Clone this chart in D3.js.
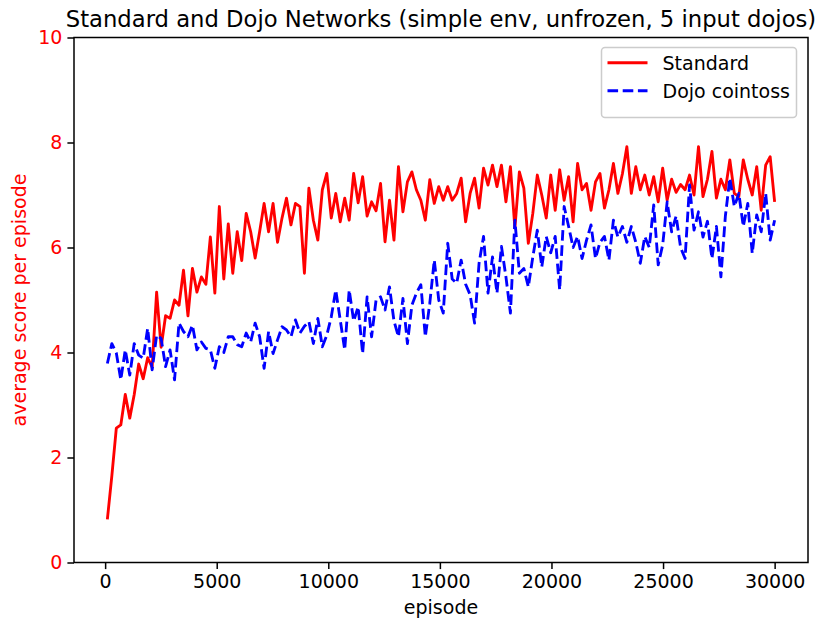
<!DOCTYPE html>
<html>
<head>
<meta charset="utf-8">
<script src="https://cdn.jsdelivr.net/npm/d3@7"></script>
<style>
  body { margin: 0; background: #fff; }
  svg text { font-family: 'DejaVu Sans', sans-serif; }
</style>
</head>
<body>
<div id="charts"></div>
<script>
// average score per episode, one value every ~200 episodes (100 .. 30000)
var standard_scores = [
  0.82, 1.65, 2.56, 2.62, 3.2, 2.75, 3.2, 3.78, 3.5, 3.9,
  3.72, 5.15, 4.1, 4.7, 4.65, 5.0, 4.9, 5.57, 4.7, 5.6,
  5.15, 5.44, 5.3, 6.2, 5.13, 6.78, 5.4, 6.45, 5.51, 6.3,
  5.75, 6.65, 6.3, 5.8, 6.3, 6.84, 6.3, 6.84, 6.1, 6.56,
  6.94, 6.43, 6.84, 6.78, 5.51, 7.13, 6.52, 6.14, 7.1, 7.41,
  6.56, 7.03, 6.49, 6.94, 6.52, 7.41, 6.85, 7.35, 6.6, 6.87,
  6.7, 7.22, 6.11, 6.9, 6.14, 7.54, 6.68, 7.25, 7.44, 7.1,
  6.9, 6.52, 7.29, 6.84, 7.16, 6.9, 7.16, 6.9, 7.03, 7.32,
  6.49, 7.03, 7.32, 6.75, 7.51, 7.19, 7.57, 7.16, 7.57, 6.87,
  7.54, 6.37, 7.44, 7.13, 6.08, 6.65, 7.38, 7.0, 6.56, 7.38,
  6.71, 7.48, 6.9, 7.35, 6.49, 7.6, 7.1, 7.22, 6.71, 7.25,
  7.41, 6.75, 7.1, 7.6, 7.03, 7.4, 7.92, 7.03, 7.54, 7.1,
  7.38, 7.0, 7.35, 6.87, 7.51, 6.9, 7.3, 7.05, 7.2, 7.1,
  7.38, 7.0, 7.92, 6.97, 7.3, 7.83, 6.94, 7.3, 7.1, 7.67,
  7.03, 6.97, 7.67, 7.3, 7.0, 7.54, 6.71, 7.57, 7.73, 6.87
];

var dojo_scores = [
  3.79, 4.17, 3.99, 3.48, 4.05, 3.57, 4.17, 3.95, 3.89, 4.46,
  3.67, 4.33, 4.27, 3.73, 4.05, 3.48, 4.56, 4.4, 4.3, 4.52,
  4.05, 4.2, 4.08, 4.05, 3.7, 4.11, 4.0, 4.3, 4.3, 4.15,
  4.11, 4.37, 4.2, 4.56, 4.3, 3.7, 4.4, 3.98, 4.24, 4.49,
  4.43, 4.3, 4.62, 4.37, 4.5, 4.59, 4.17, 4.65, 4.11, 4.33,
  4.68, 5.19, 4.62, 4.05, 5.19, 4.6, 4.87, 3.98, 5.06, 4.3,
  5.0, 5.06, 4.81, 5.25, 4.6, 4.3, 5.03, 4.17, 4.9, 5.13,
  5.29, 4.3, 4.94, 5.76, 5.0, 4.75, 6.08, 5.4, 5.32, 5.76,
  5.3, 5.1, 4.56, 5.7, 6.21, 5.13, 5.82, 5.13, 6.02, 5.44,
  4.75, 6.52, 5.51, 5.6, 5.25, 5.82, 6.33, 5.63, 6.21, 5.9,
  6.21, 5.19, 6.78, 6.4, 6.0, 6.21, 5.79, 6.14, 6.43, 5.79,
  6.1, 6.21, 5.76, 6.52, 6.2, 6.4, 6.1, 6.4, 6.1, 5.7,
  6.21, 6.0, 6.81, 5.67, 6.05, 6.87, 6.3, 6.6, 6.0, 5.79,
  7.19, 6.33, 6.68, 6.2, 6.5, 5.79, 6.4, 5.44, 6.6, 7.32,
  6.78, 7.03, 6.4, 6.84, 5.89, 6.62, 6.3, 7.03, 6.14, 6.52
];

// episodes spread evenly from 100 to 30000
var episodes = d3.range(standard_scores.length).map(function(i) {
  return 100 + i * 29900 / (standard_scores.length - 1);
});

var x_ticks = [0, 5000, 10000, 15000, 20000, 25000, 30000];
var y_ticks = [0, 2, 4, 6, 8, 10];
var series_names = ['Standard', 'Dojo cointoss'];
var series_colors = ['#ff0000', '#0000ff'];

var svg_dimensions = {width: 819, height: 621};
var plot = {left: 74, right: 808, top: 37.5, bottom: 562.5};
var font_size = '19px';
var dash = '10.6,4.6';
var svg, x, y;

function initializeChart() {
  svg = d3.select('div#charts')
    .append('svg')
    .attr('width', svg_dimensions['width'])
    .attr('height', svg_dimensions['height']);

  // matplotlib style 5% margins round the data
  var span = 30000 - 100;
  x = d3.scaleLinear()
    .domain([100 - span * 0.05, 30000 + span * 0.05])
    .range([plot.left, plot.right]);
  y = d3.scaleLinear()
    .domain([0, 10])
    .range([plot.bottom, plot.top]);

  drawAxes();
  drawLine(standard_scores, series_colors[0], null);
  drawLine(dojo_scores, series_colors[1], dash);
  drawFrame();
  drawLegend();
  drawLabels();
}

function drawAxes() {
  var x_axis = svg.append('g')
    .attr('transform', 'translate(0,' + plot.bottom + ')')
    .call(d3.axisBottom(x).tickValues(x_ticks).tickFormat(d3.format('d'))
      .tickSize(6.6).tickPadding(5).tickSizeOuter(0));
  var y_axis = svg.append('g')
    .attr('transform', 'translate(' + plot.left + ',0)')
    .call(d3.axisLeft(y).tickValues(y_ticks).tickFormat(d3.format('d'))
      .tickSize(6.6).tickPadding(5).tickSizeOuter(0));

  [x_axis, y_axis].forEach(function(a) {
    a.select('.domain').remove();
    a.selectAll('line').attr('stroke', '#000').attr('stroke-width', 1.5);
    a.selectAll('text').attr('font-size', font_size)
      .attr('font-family', 'DejaVu Sans, sans-serif');
  });
  x_axis.selectAll('text').attr('fill', '#000');
  y_axis.selectAll('text').attr('fill', '#ff0000');
}

function drawLine(values, color, dasharray) {
  var line = d3.line()
    .x(function(d, i) { return x(episodes[i]); })
    .y(function(d) { return y(d); });

  svg.append('path')
    .datum(values)
    .attr('d', line)
    .attr('fill', 'none')
    .attr('stroke', color)
    .attr('stroke-width', 2.85)
    .attr('stroke-linejoin', 'round')
    .attr('stroke-dasharray', dasharray);
}

function drawFrame() {
  svg.append('rect')
    .attr('x', plot.left)
    .attr('y', plot.top)
    .attr('width', plot.right - plot.left)
    .attr('height', plot.bottom - plot.top)
    .attr('fill', 'none')
    .attr('stroke', '#000')
    .attr('stroke-width', 1.5);
}

function drawLegend() {
  var legend = svg.append('g');
  legend.append('rect')
    .attr('x', 601.5)
    .attr('y', 47.5)
    .attr('width', 195)
    .attr('height', 70)
    .attr('rx', 3.5)
    .attr('fill', '#fff')
    .attr('fill-opacity', 0.8)
    .attr('stroke', '#cccccc')
    .attr('stroke-width', 1.5);

  var rows = legend.selectAll('g.row')
    .data(series_names)
    .enter()
    .append('g')
    .attr('transform', function(d, i) {
      return 'translate(0,' + (62.7 + i * 28) + ')';
    });

  rows.append('line')
    .attr('x1', 607.5)
    .attr('x2', 647.5)
    .attr('stroke', function(d, i) { return series_colors[i]; })
    .attr('stroke-width', 2.85)
    .attr('stroke-dasharray', function(d, i) { return i == 1 ? dash : null; });

  rows.append('text')
    .attr('x', 662.5)
    .attr('dy', '0.36em')
    .attr('font-size', font_size)
    .attr('fill', '#000')
    .text(function(d) { return d; });
}

function drawLabels() {
  svg.append('text')
    .attr('x', (plot.left + plot.right) / 2)
    .attr('y', 27)
    .attr('text-anchor', 'middle')
    .attr('font-size', '22.7px')
    .attr('fill', '#000')
    .text('Standard and Dojo Networks (simple env, unfrozen, 5 input dojos)');

  svg.append('text')
    .attr('x', (plot.left + plot.right) / 2)
    .attr('y', 614)
    .attr('text-anchor', 'middle')
    .attr('font-size', font_size)
    .attr('fill', '#000')
    .text('episode');

  svg.append('text')
    .attr('transform', 'translate(26,' + ((plot.top + plot.bottom) / 2) + ') rotate(-90)')
    .attr('text-anchor', 'middle')
    .attr('font-size', font_size)
    .attr('fill', '#ff0000')
    .text('average score per episode');
}

initializeChart();
</script>
</body>
</html>
